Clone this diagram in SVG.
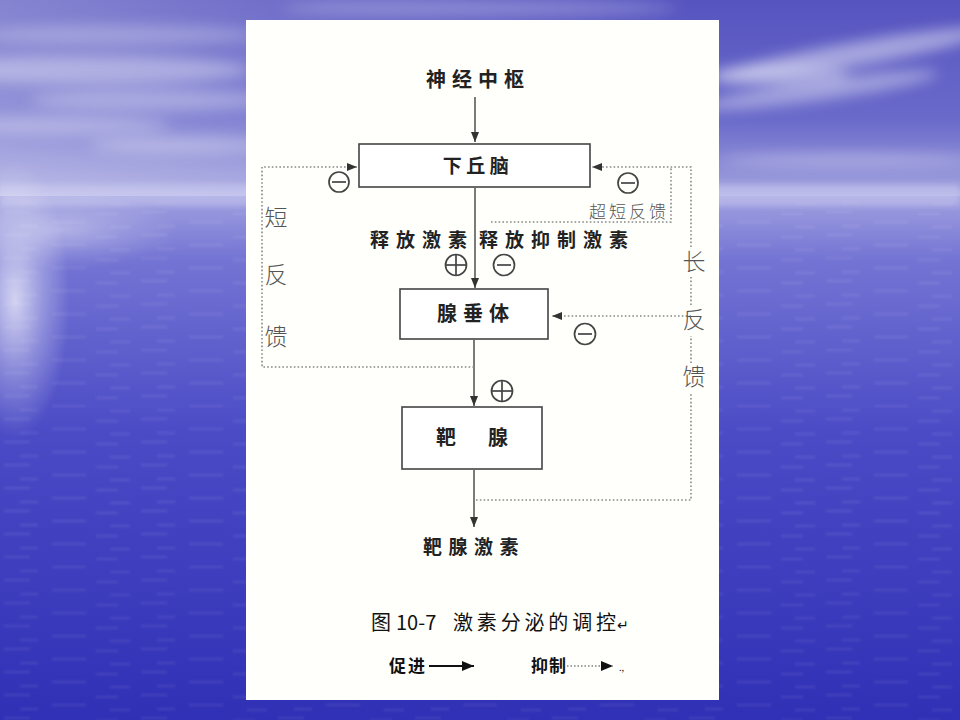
<svg xmlns="http://www.w3.org/2000/svg" width="960" height="720" viewBox="0 0 960 720">
  <defs>
    <linearGradient id="sky" x1="0" y1="0" x2="0" y2="1">
      <stop offset="0" stop-color="#5654bf"/>
      <stop offset="0.6" stop-color="#6a6acb"/>
      <stop offset="0.92" stop-color="#9a9adc"/>
      <stop offset="1" stop-color="#bcbcea"/>
    </linearGradient>
    <linearGradient id="skyLeft" x1="0" y1="0" x2="1" y2="0">
      <stop offset="0" stop-color="#ffffff" stop-opacity="0.28"/>
      <stop offset="0.3" stop-color="#ffffff" stop-opacity="0.15"/>
      <stop offset="0.7" stop-color="#ffffff" stop-opacity="0"/>
    </linearGradient>
    <linearGradient id="sea" x1="0" y1="0" x2="0" y2="1">
      <stop offset="0" stop-color="#a0a0e0"/>
      <stop offset="0.12" stop-color="#7474d4"/>
      <stop offset="0.45" stop-color="#4b4bc6"/>
      <stop offset="1" stop-color="#3030b6"/>
    </linearGradient>
    <radialGradient id="glare" cx="0.5" cy="0.5" r="0.5">
      <stop offset="0" stop-color="#ffffff" stop-opacity="0.7"/>
      <stop offset="0.5" stop-color="#ffffff" stop-opacity="0.3"/>
      <stop offset="1" stop-color="#ffffff" stop-opacity="0"/>
    </radialGradient>
    <filter id="soft" x="-20%" y="-50%" width="140%" height="200%">
      <feGaussianBlur stdDeviation="7"/>
    </filter>
    <filter id="softer" x="-20%" y="-50%" width="140%" height="200%">
      <feGaussianBlur stdDeviation="3"/>
    </filter>
    <filter id="wave" x="0" y="0" width="100%" height="100%">
      <feGaussianBlur stdDeviation="1"/>
    </filter>
    <pattern id="ripples" width="137" height="23" patternUnits="userSpaceOnUse">
      <path d="M4,5 h26 M52,15 h34 M96,7 h22 M20,19 h18 M110,20 h20" stroke="#ffffff" stroke-opacity="0.07" stroke-width="2.5"/>
    </pattern>
    <marker id="arrow" viewBox="0 0 10 8" refX="10" refY="4" markerWidth="10" markerHeight="8" markerUnits="userSpaceOnUse" orient="auto">
      <path d="M0,0 L10,4 L0,8 z" fill="#333"/>
    </marker>
    <marker id="arrowBig" viewBox="0 0 12 10" refX="12" refY="5" markerWidth="12" markerHeight="10" markerUnits="userSpaceOnUse" orient="auto">
      <path d="M0,0 L12,5 L0,10 z" fill="#111"/>
    </marker>
    <style>
      .box { fill: #ffffff; stroke: #444; stroke-width: 1.6; }
      .solid { fill: none; stroke: #333; stroke-width: 1.3; }
      .dot { fill: none; stroke: #888; stroke-width: 1.6; stroke-dasharray: 1.6 2.2; }
      .sign { fill: none; stroke: #444; stroke-width: 1.7; }
      .lbl { font-family: "Noto Sans CJK SC", "Noto Sans CJK TC", sans-serif; font-weight: 700; fill: #222; text-anchor: middle; }
      .side { font-family: "Noto Sans CJK SC", sans-serif; font-weight: 300; fill: #555; text-anchor: middle; }
      .cap { font-family: "Noto Sans CJK SC", "Liberation Sans", sans-serif; fill: #111; }
    </style>
  </defs>

  <!-- sky and sea backdrop -->
  <g id="backdrop">
    <rect x="0" y="0" width="960" height="200" fill="url(#sky)"/>
    <rect x="0" y="0" width="960" height="200" fill="url(#skyLeft)"/>
    <g filter="url(#soft)" fill="#ffffff">
      <ellipse cx="90" cy="70" rx="160" ry="14" opacity="0.35"/>
      <ellipse cx="150" cy="100" rx="120" ry="10" opacity="0.3"/>
      <ellipse cx="60" cy="125" rx="110" ry="9" opacity="0.3"/>
      <ellipse cx="180" cy="145" rx="90" ry="8" opacity="0.3"/>
      <ellipse cx="120" cy="35" rx="140" ry="10" opacity="0.25"/>
      <ellipse cx="850" cy="55" rx="140" ry="12" opacity="0.45" transform="rotate(-10 850 55)"/>
      <ellipse cx="820" cy="90" rx="120" ry="10" opacity="0.4" transform="rotate(-8 820 90)"/>
      <ellipse cx="780" cy="75" rx="70" ry="10" opacity="0.35"/>
      <ellipse cx="850" cy="160" rx="130" ry="6" opacity="0.3"/>
      <ellipse cx="480" cy="8" rx="200" ry="8" opacity="0.25"/>
    </g>
    <rect x="0" y="196" width="960" height="524" fill="url(#sea)"/>
    <rect x="0" y="200" width="960" height="520" fill="url(#ripples)" filter="url(#wave)"/>
    <rect x="0" y="184" width="960" height="22" fill="#c8c8f0" opacity="0.55" filter="url(#softer)"/>
    <ellipse cx="15" cy="300" rx="55" ry="140" fill="url(#glare)"/>
    <ellipse cx="60" cy="230" rx="120" ry="40" fill="url(#glare)" opacity="0.5"/>
  </g>

  <!-- figure sheet -->
  <rect id="sheet" x="246" y="20" width="473" height="680" fill="#fffffc"/>

  <!-- connectors -->
  <g id="connectors">
    <line class="solid" x1="475" y1="97" x2="475" y2="142" marker-end="url(#arrow)"/>
    <line class="solid" x1="475" y1="188" x2="475" y2="288" marker-end="url(#arrow)"/>
    <line class="solid" x1="474" y1="340" x2="474" y2="406" marker-end="url(#arrow)"/>
    <line class="solid" x1="474" y1="470" x2="474" y2="527" marker-end="url(#arrow)"/>
    <!-- short feedback -->
    <path class="dot" d="M474,367 H262 V167 H357" marker-end="url(#arrow)"/>
    <!-- ultra-short feedback -->
    <path class="dot" d="M491,222 H671 V167"/>
    <!-- long feedback -->
    <path class="dot" d="M476,500 H691 V392"/>
    <path class="dot" d="M691,363 V336"/>
    <path class="dot" d="M691,305 V277"/>
    <path class="dot" d="M691,247 V167 H592" marker-end="url(#arrow)"/>
    <path class="dot" d="M691,316 H552" marker-end="url(#arrow)"/>
  </g>

  <!-- nodes -->
  <g id="node-cns">
    <text class="lbl" x="478" y="87" font-size="20" letter-spacing="6">神经中枢</text>
  </g>
  <g id="node-hypothalamus">
    <rect class="box" x="359" y="144" width="231" height="43"/>
    <text class="lbl" x="478" y="173" font-size="19" letter-spacing="4.5">下丘脑</text>
  </g>
  <g id="node-pituitary">
    <rect class="box" x="400" y="289" width="148" height="50"/>
    <text class="lbl" x="476" y="321" font-size="20" letter-spacing="6">腺垂体</text>
  </g>
  <g id="node-target">
    <rect class="box" x="402" y="407" width="140" height="62"/>
    <text class="lbl" x="446" y="445" font-size="20">靶</text>
    <text class="lbl" x="498" y="445" font-size="20">腺</text>
  </g>
  <g id="node-target-hormone">
    <text class="lbl" x="474" y="554" font-size="19" letter-spacing="6.5">靶腺激素</text>
  </g>

  <!-- edge labels -->
  <g id="labels">
    <text class="lbl" x="422" y="247" font-size="19" letter-spacing="7">释放激素</text>
    <text class="lbl" x="557" y="247" font-size="19" letter-spacing="7">释放抑制激素</text>
    <text class="side" x="629" y="218" font-size="17" letter-spacing="3" fill="#777">超短反馈</text>
    <text class="side" x="276" y="226" font-size="23">短</text>
    <text class="side" x="276" y="283" font-size="23">反</text>
    <text class="side" x="276" y="345" font-size="23">馈</text>
    <text class="side" x="694" y="270" font-size="23">长</text>
    <text class="side" x="694" y="328" font-size="23">反</text>
    <text class="side" x="694" y="385" font-size="23">馈</text>
  </g>

  <!-- plus / minus signs -->
  <g id="signs">
    <g transform="translate(339 182)"><circle class="sign" r="10"/><line class="sign" x1="-7" y1="0" x2="7" y2="0"/></g>
    <g transform="translate(628 183)"><circle class="sign" r="10"/><line class="sign" x1="-7" y1="0" x2="7" y2="0"/></g>
    <g transform="translate(456 265)"><circle class="sign" r="10.5"/><line class="sign" x1="-10" y1="0" x2="10" y2="0"/><line class="sign" x1="0" y1="-10" x2="0" y2="10"/></g>
    <g transform="translate(504 265)"><circle class="sign" r="10.5"/><line class="sign" x1="-7" y1="0" x2="7" y2="0"/></g>
    <g transform="translate(585 334)"><circle class="sign" r="10.5"/><line class="sign" x1="-7" y1="0" x2="7" y2="0"/></g>
    <g transform="translate(502 391)"><circle class="sign" r="10.5"/><line class="sign" x1="-10" y1="0" x2="10" y2="0"/><line class="sign" x1="0" y1="-10" x2="0" y2="10"/></g>
  </g>

  <!-- caption and legend -->
  <g id="caption">
    <text class="cap" x="371" y="630" font-size="20">图</text>
    <text class="cap" x="396" y="630" font-size="20" font-family="Liberation Sans, sans-serif">10-7</text>
    <text class="cap" x="453" y="630" font-size="20" textLength="163" lengthAdjust="spacing">激素分泌的调控</text>
    <text class="cap" x="617" y="630" font-size="14" fill="#999">↵</text>
    <text class="cap" x="389" y="672" font-size="17" font-weight="700" letter-spacing="2">促进</text>
    <line x1="429" y1="666" x2="474" y2="666" stroke="#111" stroke-width="2.2" marker-end="url(#arrowBig)"/>
    <text class="cap" x="531" y="672" font-size="17" font-weight="700" letter-spacing="1">抑制</text>
    <line x1="567" y1="666" x2="613" y2="666" stroke="#444" stroke-width="1.2" stroke-dasharray="1.5 2" marker-end="url(#arrowBig)"/>
    <text class="cap" x="619" y="671" font-size="9" fill="#777">.,</text>
  </g>
</svg>
